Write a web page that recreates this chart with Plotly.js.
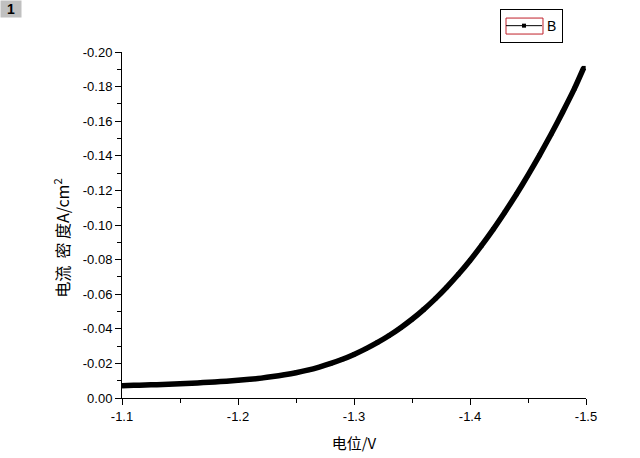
<!DOCTYPE html>
<html>
<head>
<meta charset="utf-8">
<script src="https://cdn.plot.ly/plotly-3.0.1.min.js"></script>
<style>
  html, body { margin: 0; padding: 0; background: #fff; }
  #chart { width: 640px; height: 458px; }
</style>
</head>
<body>
<div id="chart"></div>
<script>
// 电位 (V) 与电流密度 (A/cm2)
const potential = [
  -1.10, -1.11, -1.12, -1.13, -1.14, -1.15, -1.16, -1.17, -1.18, -1.19,
  -1.20, -1.21, -1.22, -1.23, -1.24, -1.25, -1.26, -1.27, -1.28, -1.29,
  -1.30, -1.31, -1.32, -1.33, -1.34, -1.35, -1.36, -1.37, -1.38, -1.39,
  -1.40, -1.41, -1.42, -1.43, -1.44, -1.45, -1.46, -1.47, -1.48, -1.49,
  -1.498
];
const currentDensity = [
  -0.0071, -0.0073, -0.0075, -0.0077, -0.0079, -0.0082, -0.0085, -0.0089, -0.0093, -0.0097,
  -0.0102, -0.0108, -0.0115, -0.0124, -0.0134, -0.0146, -0.0161, -0.0179, -0.0200, -0.0224,
  -0.0252, -0.0284, -0.0320, -0.0360, -0.0405, -0.0455, -0.0511, -0.0573, -0.0641, -0.0715,
  -0.0795, -0.0882, -0.0975, -0.1074, -0.1178, -0.1288, -0.1404, -0.1526, -0.1654, -0.1788,
  -0.1908
];

const xTickVals = [-1.1, -1.2, -1.3, -1.4, -1.5];
const xTickText = ['-1.1', '-1.2', '-1.3', '-1.4', '-1.5'];
const yTickVals = [0, -0.02, -0.04, -0.06, -0.08, -0.10, -0.12, -0.14, -0.16, -0.18, -0.20];
const yTickText = ['0.00', '-0.02', '-0.04', '-0.06', '-0.08', '-0.10', '-0.12', '-0.14', '-0.16', '-0.18', '-0.20'];

const tickFont = { family: 'Liberation Sans, Arial, sans-serif', size: 13, color: '#000' };
const cjkFamily = 'Noto Sans CJK SC, Liberation Sans, sans-serif';

// 粗曲线（平滑），图例用细线+方点的同一数据
const thick = {
  x: potential, y: currentDensity, name: 'B', showlegend: false,
  type: 'scatter', mode: 'lines',
  line: { color: '#000', width: 5.5, shape: 'spline', smoothing: 0.6 }
};
const legendTrace = {
  x: potential, y: currentDensity, name: 'B',
  type: 'scatter', mode: 'lines+markers',
  line: { color: '#000', width: 1, shape: 'spline', smoothing: 0.6 },
  marker: { symbol: 'square', size: 4, color: '#000' }
};

const layout = {
  width: 640, height: 458,
  paper_bgcolor: '#fff', plot_bgcolor: '#fff',
  margin: { l: 122, r: 54, t: 52, b: 60, pad: 0, autoexpand: false },
  showlegend: true,
  legend: {
    x: 0.8147, y: 1.1241, xanchor: 'left', yanchor: 'top',
    bordercolor: '#000', borderwidth: 1, bgcolor: 'rgba(0,0,0,0)',
    font: { family: 'Liberation Sans, Arial, sans-serif', size: 14, color: '#000' },
    itemwidth: 36
  },
  xaxis: {
    range: [-1.1, -1.5], tickmode: 'array', tickvals: xTickVals, ticktext: xTickText,
    showgrid: false, zeroline: false, showline: true, linecolor: '#000', linewidth: 1,
    ticks: 'outside', ticklen: 6, tickcolor: '#000', tickfont: tickFont,
    minor: { dtick: 0.05, tick0: -1.1, ticks: 'outside', ticklen: 4, tickcolor: '#000', showgrid: false },
    title: { text: '电位/V', font: { family: cjkFamily, size: 15, color: '#000' }, standoff: 15 }
  },
  yaxis: {
    range: [0, -0.2], tickmode: 'array', tickvals: yTickVals, ticktext: yTickText,
    showgrid: false, zeroline: false, showline: true, linecolor: '#000', linewidth: 1,
    ticks: 'outside', ticklen: 6, tickcolor: '#000', tickfont: tickFont,
    minor: { dtick: 0.01, tick0: 0, ticks: 'outside', ticklen: 4, tickcolor: '#000', showgrid: false }
  },
  shapes: [{
    type: 'rect', xref: 'paper', yref: 'paper',
    x0: 0.8276, x1: 0.9073, y0: 1.0519, y1: 1.0981,
    line: { color: '#c0202a', width: 1 }, fillcolor: 'rgba(0,0,0,0)'
  }],
  annotations: [
    {
      text: '电流\u00a0\u00a0密\u00a0度A/cm<sup>2</sup>', xref: 'paper', yref: 'paper',
      x: -0.1293, y: 0.4603, xanchor: 'center', yanchor: 'middle',
      textangle: -90, showarrow: false,
      font: { family: cjkFamily, size: 16, color: '#000' }
    },
    {
      text: '<b>1</b>', xref: 'paper', yref: 'paper', x: -0.2629, y: 1.150,
      xanchor: 'left', yanchor: 'top', showarrow: false,
      bgcolor: '#c0c0c0', width: 18, height: 14,
      font: { family: 'Liberation Sans, Arial, sans-serif', size: 14, color: '#000' }
    }
  ]
};

Plotly.newPlot('chart', [thick, legendTrace], layout, { displayModeBar: false, staticPlot: true });
</script>
</body>
</html>
